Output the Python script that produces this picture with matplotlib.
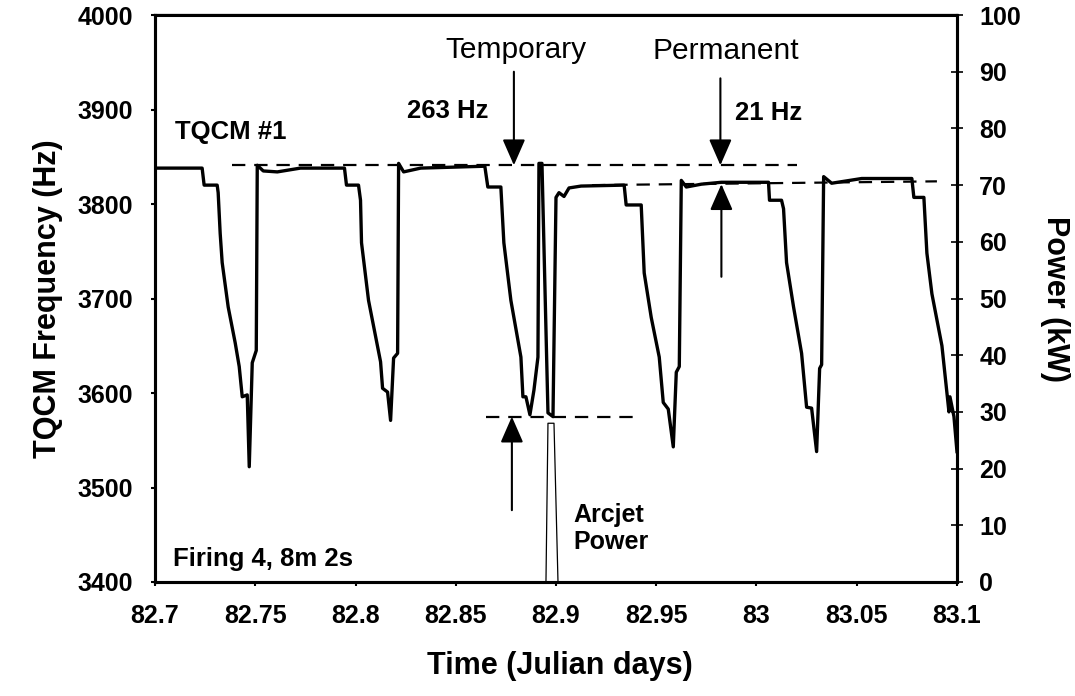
import matplotlib
matplotlib.use("Agg")
import matplotlib.pyplot as plt

plt.rcParams['font.family'] = ['Liberation Sans', 'DejaVu Sans']

# TQCM #1 frequency trace
time = [82.7000, 82.7235, 82.7245, 82.7310, 82.7315, 82.7325, 82.7335, 82.7365,
        82.7400, 82.7420, 82.7435, 82.7460, 82.7470, 82.7485, 82.7505, 82.7510,
        82.7540, 82.7610, 82.7725, 82.7945, 82.7955, 82.8015, 82.8025, 82.8030,
        82.8065, 82.8125, 82.8135, 82.8160, 82.8175, 82.8190, 82.8210, 82.8215,
        82.8240, 82.8325, 82.8645, 82.8660, 82.8725, 82.8740, 82.8775, 82.8825,
        82.8835, 82.8850, 82.8870, 82.8890, 82.8910, 82.8915, 82.8930, 82.8960,
        82.8985, 82.9000, 82.9015, 82.9040, 82.9065, 82.9125, 82.9340, 82.9350,
        82.9425, 82.9440, 82.9475, 82.9515, 82.9535, 82.9560, 82.9585, 82.9600,
        82.9615, 82.9625, 82.9650, 82.9725, 82.9825, 83.0060, 83.0065, 83.0125,
        83.0135, 83.0150, 83.0185, 83.0225, 83.0250, 83.0275, 83.0300, 83.0315,
        83.0325, 83.0335, 83.0375, 83.0465, 83.0525, 83.0775, 83.0785, 83.0835,
        83.0850, 83.0875, 83.0925, 83.0960, 83.0965, 83.0985, 83.1000]
freq = [3838, 3838, 3820, 3820, 3812, 3769, 3738, 3691,
        3653, 3628, 3596, 3598, 3522, 3632, 3645, 3841,
        3835, 3834, 3838, 3838, 3820, 3820, 3804, 3759,
        3698, 3633, 3605, 3601, 3571, 3637, 3642, 3843,
        3834, 3838, 3840, 3818, 3818, 3759, 3698, 3638,
        3596, 3596, 3577, 3603, 3638, 3843, 3843, 3579,
        3575, 3807, 3812, 3808, 3817, 3819, 3820, 3799,
        3799, 3727, 3680, 3638, 3590, 3583, 3543, 3622,
        3628, 3825, 3818, 3821, 3823, 3823, 3804, 3804,
        3795, 3738, 3691, 3642, 3585, 3584, 3538, 3626,
        3630, 3829, 3822, 3825, 3827, 3827, 3807, 3807,
        3748, 3705, 3650, 3580, 3596, 3575, 3538]

# arcjet power (right axis)
power_time = [82.7, 82.895, 82.896, 82.899, 82.901, 83.1]
power_kw = [0, 0, 28, 28, 0, 0]

# reference levels (dashed)
temp_level = 3841      # before firing
perm_level = 3820      # after firing
low_level = 3575       # minimum during firing

x_ticks = [82.7, 82.75, 82.8, 82.85, 82.9, 82.95, 83.0, 83.05, 83.1]
x_labels = ["82.7", "82.75", "82.8", "82.85", "82.9", "82.95", "83", "83.05", "83.1"]

fig = plt.figure(figsize=(10.75, 6.96), dpi=100)
ax = fig.add_axes([0.1442, 0.1638, 0.7460, 0.8146])
ax2 = ax.twinx()

ax.plot(time, freq, color="black", lw=2.4, solid_joinstyle="round", zorder=3)
ax2.plot(power_time, power_kw, color="black", lw=0.9)

dash = dict(color="black", lw=1.6, dashes=(6, 4))
ax.plot([82.7385, 83.02], [temp_level, temp_level], **dash)
ax.plot([82.918, 83.09], [perm_level, perm_level + 4], **dash)
ax.plot([82.865, 82.939], [low_level, low_level], **dash)

ax.set_xlim(82.7, 83.1)
ax.set_ylim(3400, 4000)
ax2.set_ylim(0, 100)
ax.set_xticks(x_ticks)
ax.set_xticklabels(x_labels)
ax.set_yticks(range(3400, 4001, 100))
ax2.set_yticks(range(0, 101, 10))

for a in (ax, ax2):
    for s in a.spines.values():
        s.set_linewidth(2.2)
ax.spines["top"].set_linewidth(1.6)

ax.tick_params(axis="both", direction="out", length=3, width=1.5, pad=13,
               labelsize=18)
ax2.tick_params(axis="y", direction="inout", length=8, width=1.2, pad=12,
                labelsize=18)
for lab in ax.get_xticklabels() + ax.get_yticklabels() + ax2.get_yticklabels():
    lab.set_fontweight("bold")

ax.set_xlabel("Time (Julian days)", fontsize=22, fontweight="bold", va="center")
ax.xaxis.set_label_coords(0.505, -0.148)
ax.set_ylabel("TQCM Frequency (Hz)", fontsize=22, fontweight="bold", va="center")
ax.yaxis.set_label_coords(-0.133, 0.5)
ax2.set_ylabel("Power (kW)", fontsize=22, fontweight="bold", rotation=270,
               va="center")
ax2.yaxis.set_label_coords(1.122, 0.5)

arrow = dict(arrowstyle="-|>,head_length=0.8,head_width=0.35", color="black",
             lw=1.5, shrinkA=0, shrinkB=0, mutation_scale=20)
ax.annotate("", xy=(82.879, 3841), xytext=(82.879, 3940), arrowprops=arrow)
ax.annotate("", xy=(82.982, 3841), xytext=(82.982, 3933), arrowprops=arrow)
ax.annotate("", xy=(82.9825, 3821), xytext=(82.9825, 3723), arrowprops=arrow)
ax.annotate("", xy=(82.878, 3575), xytext=(82.878, 3476), arrowprops=arrow)

ax.text(82.88, 3963, "Temporary", fontsize=21.5, ha="center", va="center")
ax.text(82.9845, 3962, "Permanent", fontsize=21.5, ha="center", va="center")
ax.text(82.846, 3898, "263 Hz", fontsize=18.5, fontweight="bold",
        ha="center", va="center")
ax.text(83.006, 3896, "21 Hz", fontsize=18.5, fontweight="bold",
        ha="center", va="center")
ax.text(82.738, 3876, "TQCM #1", fontsize=18.5, fontweight="bold",
        ha="center", va="center")
ax.text(82.9085, 3457, "Arcjet\nPower", fontsize=18, fontweight="bold",
        ha="left", va="center", linespacing=1.15)
ax.text(82.709, 3424, "Firing 4, 8m 2s", fontsize=18.5, fontweight="bold",
        ha="left", va="center")

fig.savefig("out.png", dpi=100)
